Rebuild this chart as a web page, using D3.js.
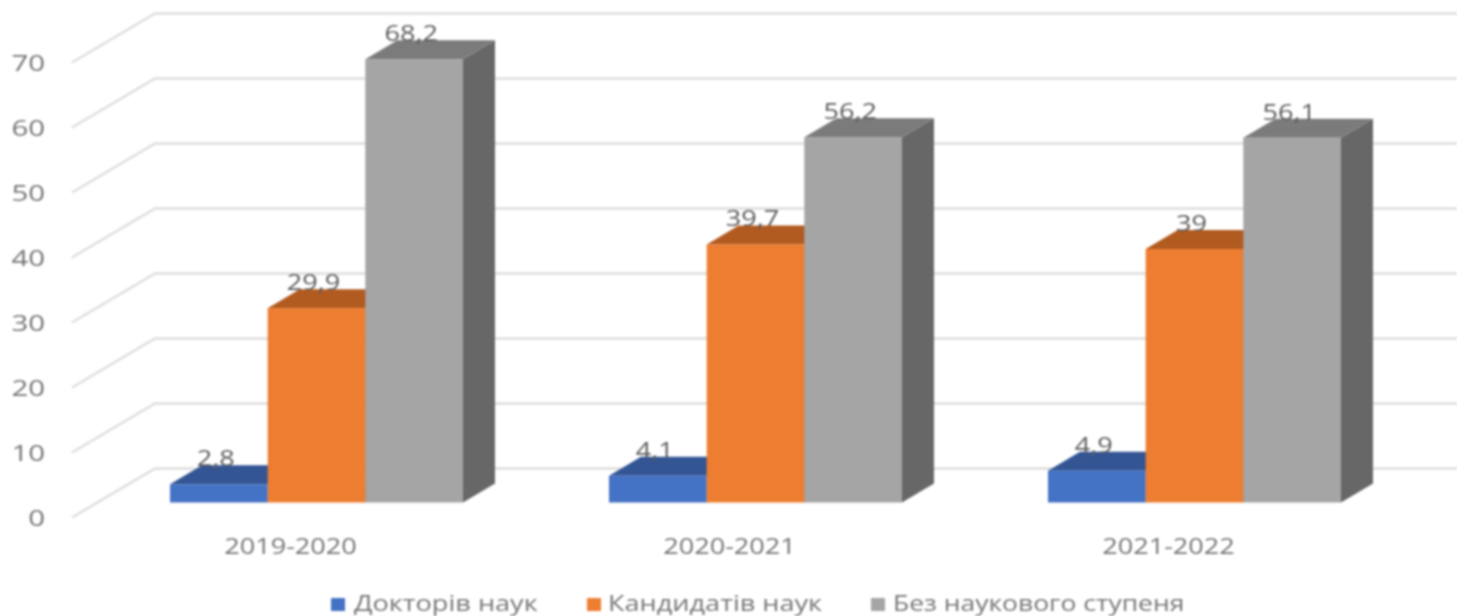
<!DOCTYPE html>
<html lang="uk">
<head>
  <meta charset="UTF-8">
  <title>Chart</title>
  <script src="https://cdn.jsdelivr.net/npm/d3@7"></script>
  <style>
    html, body { margin: 0; background: #fff; overflow: hidden; }
    svg { display: block; filter: blur(0.8px); }
    text { font-family: "Open Sans", sans-serif; }
    .grid { fill: none; stroke: #dedede; stroke-width: 2.5px; }
    .tick-label text { font-size: 21px; fill: #757575; }
    .value { font-size: 21px; fill: #5c5c5c; text-anchor: middle; }
    .legend-label { font-size: 21px; fill: #757575; }
  </style>
</head>
<body>
  <script>
    const categories = ['2019-2020', '2020-2021', '2021-2022'];
    const seriesNames = ['Докторів наук', 'Кандидатів наук', 'Без наукового ступеня'];
    const doctors = [2.8, 4.1, 4.9];
    const candidates = [29.9, 39.7, 39];
    const noDegree = [68.2, 56.2, 56.1];
    const valueLabels = [['2,8', '4,1', '4,9'], ['29,9', '39,7', '39'], ['68,2', '56,2', '56,1']];
    const yTicks = [0, 10, 20, 30, 40, 50, 60, 70];
    const front = ['#4472c4', '#ed7d31', '#a5a5a5'];
    const topFace = ['#335593', '#b15b20', '#7b7b7b'];
    const sideFace = ['#2a4679', '#8f4a1a', '#676767'];

    const width = 1457, height = 616;
    const depthX = 32, depthY = 19;
    const stretch = 1.29; // the picture is wider than tall, text too
    const svg = d3.select('body').append('svg').attr('width', width).attr('height', height);

    const y = d3.scaleLinear().domain([0, 70]).range([502.5, 47.5]);
    const x0 = d3.scaleBand().domain(categories).range([97, 1414]);
    const x1 = d3.scaleBand().domain(d3.range(3)).range([73, 366]);

    function widen(sel, k = stretch){
      sel.each(function(){
        const w = this.getComputedTextLength();
        d3.select(this).attr('textLength', w * k).attr('lengthAdjust', 'spacingAndGlyphs');
      });
    }

    // walls: slanted floor part + back line for every tick
    svg.selectAll('path.grid').data(yTicks).enter().append('path')
      .attr('class', 'grid')
      .attr('d', d => `M72,${y(d) + 15}L155,${y(d) - 34}H${width}`);

    const yAxis = d3.axisLeft(y).tickValues(yTicks).tickSize(0).tickPadding(0);
    const yG = svg.append('g').attr('class', 'tick-label')
      .attr('transform', 'translate(45,15)').call(yAxis);
    yG.select('.domain').remove();
    yG.selectAll('text').attr('dy', '0.36em').call(widen, 1.4);

    const xAxis = d3.axisBottom(x0).tickSize(0).tickPadding(0);
    const xG = svg.append('g').attr('class', 'tick-label')
      .attr('transform', 'translate(-26,539)').call(xAxis);
    xG.select('.domain').remove();
    xG.selectAll('text').attr('dy', '0.71em').call(widen);

    const rows = [doctors, candidates, noDegree];
    const bars = [];
    categories.forEach((c, i) => rows.forEach((r, s) => bars.push({ c, s, v: r[i], label: valueLabels[s][i] })));

    const bar = svg.selectAll('g.bar').data(bars).enter().append('g').attr('class', 'bar');
    const left = d => x0(d.c) + x1(d.s);
    const right = d => left(d) + x1.bandwidth();

    bar.append('path').attr('fill', d => sideFace[d.s])
      .attr('d', d => `M${right(d)},${y(d.v)}l${depthX},${-depthY}V${y(0) - depthY}L${right(d)},${y(0)}Z`);
    bar.append('path').attr('fill', d => topFace[d.s])
      .attr('d', d => `M${left(d)},${y(d.v)}l${depthX},${-depthY}H${right(d) + depthX}L${right(d)},${y(d.v)}Z`);
    bar.append('rect').attr('fill', d => front[d.s])
      .attr('x', left).attr('y', d => y(d.v))
      .attr('width', x1.bandwidth()).attr('height', d => y(0) - y(d.v));

    svg.selectAll('text.value').data(bars).enter().append('text')
      .attr('class', 'value')
      .attr('x', d => left(d) + x1.bandwidth() / 2 - 3)
      .attr('y', d => y(d.v) - 18)
      .text(d => d.label)
      .call(widen);

    const legendSwatchX = [331, 587, 871];
    const legendTextX = [354, 608, 893];
    const legendStretch = [1.29, 1.29, 1.26];
    const lg = svg.selectAll('g.legend').data(seriesNames).enter().append('g')
      .attr('class', 'legend');
    lg.append('rect').attr('x', (d, i) => legendSwatchX[i]).attr('y', 598).attr('width', 14).attr('height', 13)
      .attr('fill', (d, i) => front[i]);
    lg.append('text').attr('class', 'legend-label')
      .attr('x', (d, i) => legendTextX[i]).attr('y', 611).text(d => d)
      .each(function(d, i){ d3.select(this).call(widen, legendStretch[i]); });
  </script>
</body>
</html>
